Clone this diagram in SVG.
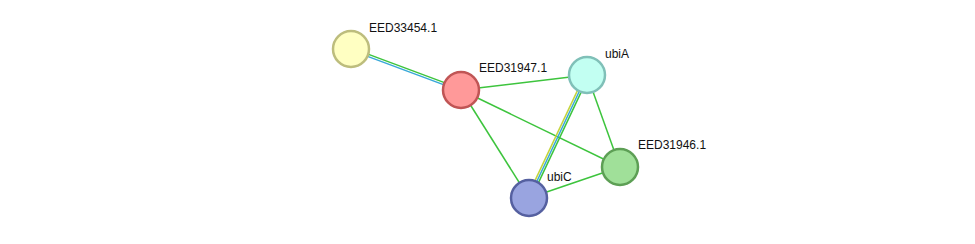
<svg xmlns="http://www.w3.org/2000/svg" width="975" height="244" viewBox="0 0 975 244">
<style>
.e{stroke-width:1.5;fill:none}
.g{stroke:#3dc43d}
.b{stroke:#38a8d8}
.y{stroke:#c4d43a}
.n{stroke-width:2.5}
text{font-family:"Liberation Sans",Arial,sans-serif;font-size:12px;fill:#111}
</style>
<rect width="975" height="244" fill="#fff"/>
<g id="connectors">
<line class="e g" x1="350.5" y1="47.6" x2="460.5" y2="88.6"/>
<line class="e b" x1="351.5" y1="50.4" x2="461.5" y2="91.4"/>
<line class="e g" x1="461" y1="90" x2="587" y2="75"/>
<line class="e g" x1="461" y1="90" x2="620" y2="167"/>
<line class="e g" x1="461" y1="90" x2="529" y2="198"/>
<line class="e y" x1="585.2" y1="74.1" x2="527.2" y2="197.1"/>
<line class="e b" x1="587" y1="75" x2="529" y2="198"/>
<line class="e g" x1="588.8" y1="75.9" x2="530.8" y2="198.9"/>
<line class="e g" x1="587" y1="75" x2="620" y2="167"/>
<line class="e g" x1="529" y1="198" x2="620" y2="167"/>
</g>
<g id="EED33454.1">
<circle class="n" cx="351" cy="49" r="18" fill="#ffffc2" stroke="#bdbd7d"/>
<text x="369" y="32">EED33454.1</text>
</g>
<g id="EED31947.1">
<circle class="n" cx="461" cy="90" r="18" fill="#ff9999" stroke="#c05555"/>
<text x="479" y="72">EED31947.1</text>
</g>
<g id="ubiA">
<circle class="n" cx="587" cy="75" r="18" fill="#c2fff2" stroke="#80c0b8"/>
<text x="605" y="58">ubiA</text>
</g>
<g id="EED31946.1">
<circle class="n" cx="620" cy="167" r="18" fill="#a0e099" stroke="#5d9f55"/>
<text x="638" y="149">EED31946.1</text>
</g>
<g id="ubiC">
<circle class="n" cx="529" cy="198" r="18" fill="#99a4e0" stroke="#5560a0"/>
<text x="547" y="181">ubiC</text>
</g>
</svg>
